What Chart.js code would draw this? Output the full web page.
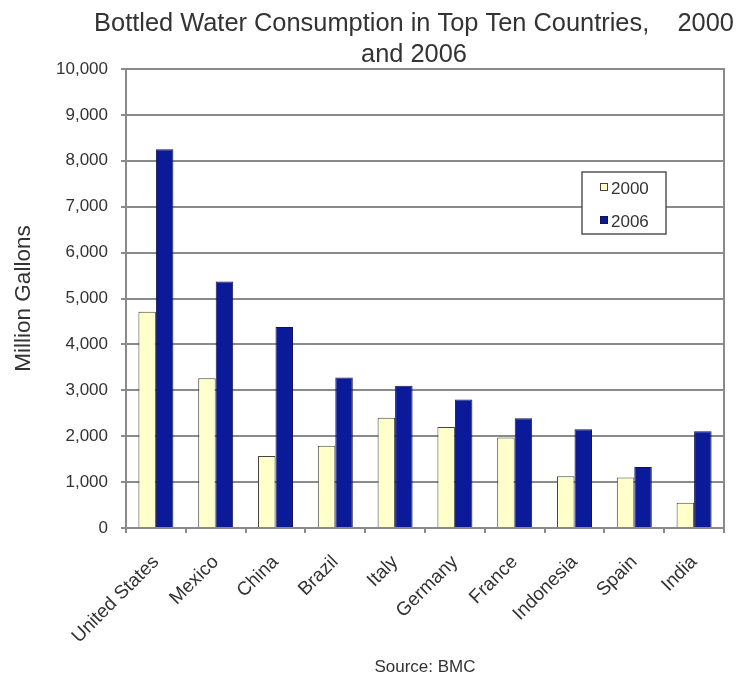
<!DOCTYPE html>
<html>
<head>
<meta charset="utf-8">
<script src="https://cdn.jsdelivr.net/npm/chart.js@4/dist/chart.umd.min.js"></script>
<style>
html,body{margin:0;padding:0;background:#fff;overflow:hidden}
#wrap{width:740px;height:679px;position:relative}
</style>
</head>
<body>
<div id="wrap"><canvas id="c" width="740" height="679"></canvas></div>
<script>
const categories = ['United States','Mexico','China','Brazil','Italy','Germany','France','Indonesia','Spain','India'];
const values2000 = [4710,3260,1570,1790,2400,2200,1970,1130,1100,550];
const values2006 = [8250,5370,4380,3280,3100,2800,2390,2150,1330,2110];
const seriesNames = ['2000','2006'];
const seriesColors = ['#ffffcc','#0b1a98'];
const seriesBorders = ['#444444','#14144a'];
const yMin = 0, yMax = 10000, yStep = 1000;
const titleLines = ['Bottled Water Consumption in Top Ten Countries,    2000','and 2006'];
const yAxisTitle = 'Million Gallons';
const sourceText = 'Source: BMC';

const FONT = "'Liberation Sans', Arial, Helvetica, sans-serif";
const TEXT = '#333333';
const GRID = '#8a8a8a';

const decor = {
  id: 'decor',
  beforeDatasetsDraw(chart) {
    const {ctx, chartArea: a} = chart;
    ctx.save();
    ctx.strokeStyle = GRID;
    ctx.lineWidth = 2;
    ctx.strokeRect(a.left, a.top, a.right - a.left, a.bottom - a.top);
    ctx.restore();
  },
  afterDraw(chart) {
    const {ctx, chartArea: a} = chart;
    ctx.save();
    // title
    ctx.fillStyle = TEXT;
    ctx.font = '25.4px ' + FONT;
    ctx.textAlign = 'center';
    ctx.textBaseline = 'alphabetic';
    const tx = 414;
    titleLines.forEach((t, i) => ctx.fillText(t, tx, 31 + i * 31));
    // legend
    const bx = a.right - 142, by = a.top + 103, bw = 84, bh = 62;
    ctx.fillStyle = '#ffffff';
    ctx.fillRect(bx, by, bw, bh);
    ctx.strokeStyle = '#555555';
    ctx.lineWidth = 1.5;
    ctx.strokeRect(bx, by, bw, bh);
    ctx.font = '17px ' + FONT;
    ctx.textAlign = 'left';
    ctx.textBaseline = 'middle';
    chart.data.datasets.forEach((ds, i) => {
      const sy = by + 11 + i * 33;
      ctx.fillStyle = ds.backgroundColor;
      ctx.fillRect(bx + 18, sy, 8, 8);
      ctx.strokeStyle = ds.borderColor;
      ctx.lineWidth = 1;
      ctx.strokeRect(bx + 18.5, sy + 0.5, 7, 7);
      ctx.fillStyle = TEXT;
      ctx.fillText(ds.label, bx + 29, sy + 6);
    });
    // source
    ctx.font = '17px ' + FONT;
    ctx.textAlign = 'center';
    ctx.fillStyle = TEXT;
    ctx.fillText(sourceText, (a.left + a.right) / 2, 667);
    ctx.restore();
  }
};

new Chart(document.getElementById('c'), {
  type: 'bar',
  data: {
    labels: categories,
    datasets: [
      {label: seriesNames[0], data: values2000, backgroundColor: seriesColors[0], borderColor: seriesBorders[0], borderWidth: 1},
      {label: seriesNames[1], data: values2006, backgroundColor: seriesColors[1], borderColor: seriesBorders[1], borderWidth: 1}
    ]
  },
  options: {
    responsive: false,
    animation: false,
    devicePixelRatio: 1,
    layout: {padding: {top: 69, right: 16, bottom: 0, left: 0}},
    datasets: {bar: {barPercentage: 1, categoryPercentage: 0.585}},
    plugins: {
      legend: {display: false},
      title: {display: false},
      tooltip: {enabled: false}
    },
    scales: {
      x: {
        afterFit(s) { s.height = 151; },
        grid: {display: true, drawOnChartArea: false, drawTicks: true, tickLength: 5, color: GRID, lineWidth: 2, offset: true},
        border: {display: true, color: GRID, width: 2},
        ticks: {
          autoSkip: false, maxRotation: 45, minRotation: 45,
          padding: 18, labelOffset: 0,
          color: TEXT, font: {family: FONT, size: 19}
        }
      },
      y: {
        afterFit(s) { s.width = 126; },
        min: yMin, max: yMax,
        grid: {color: GRID, lineWidth: 2, tickLength: 5, drawTicks: true},
        border: {display: true, color: GRID, width: 2},
        ticks: {
          stepSize: yStep, padding: 13, color: TEXT, font: {family: FONT, size: 17},
          callback: v => v.toLocaleString('en-US')
        },
        title: {display: true, text: yAxisTitle, color: TEXT, font: {family: FONT, size: 22.5}, padding: {top: 10.5, bottom: 0}}
      }
    }
  },
  plugins: [decor]
});
</script>
</body>
</html>
